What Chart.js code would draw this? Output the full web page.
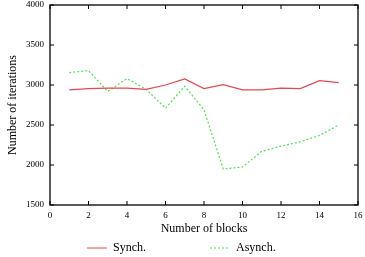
<!DOCTYPE html>
<html>
<head>
<meta charset="utf-8">
<script src="https://cdn.jsdelivr.net/npm/chart.js@4.4.0/dist/chart.umd.min.js"></script>
<style>
  html, body { margin: 0; padding: 0; background: #fff; }
  #wrap { width: 365px; height: 257px; }
</style>
</head>
<body>
<div id="wrap"><canvas id="grafico"></canvas></div>
<script>
// Dados
const blocos = [1, 2, 3, 4, 5, 6, 7, 8, 9, 10, 11, 12, 13, 14, 15];
const iterSynch = [2940, 2955, 2960, 2960, 2945, 3000, 3075, 2955, 3005, 2940, 2940, 2960, 2955, 3055, 3030];
const iterAsynch = [3155, 3180, 2920, 3080, 2945, 2710, 2985, 2690, 1950, 1975, 2170, 2235, 2290, 2370, 2500];
const ticksX = [0, 2, 4, 6, 8, 10, 12, 14, 16];
const ticksY = [1500, 2000, 2500, 3000, 3500, 4000];

const fonte = "'Liberation Serif', 'DejaVu Serif', serif";
const corSynch = "rgb(232, 70, 80)";
const corAsynch = "rgb(70, 230, 70)";

// Moldura e ticks para dentro (estilo gnuplot)
const molduraPlugin = {
  id: "moldura",
  afterDraw(chart) {
    const ctx = chart.ctx;
    const a = chart.chartArea;
    const sx = chart.scales.x;
    const sy = chart.scales.y;
    const t = 4;
    ctx.save();
    ctx.strokeStyle = "#000";
    ctx.lineWidth = 1.3;
    ctx.strokeRect(a.left, a.top, a.right - a.left, a.bottom - a.top);
    ctx.lineWidth = 1;
    ctx.beginPath();
    ticksX.forEach((v) => {
      const px = sx.getPixelForValue(v);
      ctx.moveTo(px, a.bottom);
      ctx.lineTo(px, a.bottom - t);
      ctx.moveTo(px, a.top);
      ctx.lineTo(px, a.top + t);
    });
    ticksY.forEach((v) => {
      const py = sy.getPixelForValue(v);
      ctx.moveTo(a.left, py);
      ctx.lineTo(a.left + t, py);
      ctx.moveTo(a.right, py);
      ctx.lineTo(a.right - t, py);
    });
    ctx.stroke();

    // Legenda
    const ly = 248;
    const itens = [
      { x: 87, ds: chart.data.datasets[0] },
      { x: 210, ds: chart.data.datasets[1] },
    ];
    ctx.font = "12px " + fonte;
    ctx.textBaseline = "middle";
    ctx.fillStyle = "#000";
    itens.forEach((it) => {
      ctx.strokeStyle = it.ds.borderColor;
      ctx.lineWidth = 1;
      ctx.setLineDash(it.ds.borderDash || []);
      ctx.beginPath();
      ctx.moveTo(it.x, ly);
      ctx.lineTo(it.x + 20, ly);
      ctx.stroke();
      ctx.setLineDash([]);
      ctx.fillText(it.ds.label, it.x + 26, ly);
    });
    ctx.restore();
  },
};

const grafico = document.getElementById("grafico");

new Chart(grafico, {
  type: "line",
  data: {
    labels: blocos,
    datasets: [
      {
        label: "Synch.",
        data: blocos.map((b, i) => ({ x: b, y: iterSynch[i] })),
        borderColor: corSynch,
        borderWidth: 1.2,
        pointRadius: 0,
        fill: false,
        tension: 0,
      },
      {
        label: "Asynch.",
        data: blocos.map((b, i) => ({ x: b, y: iterAsynch[i] })),
        borderColor: corAsynch,
        borderWidth: 1.2,
        borderDash: [2, 2],
        pointRadius: 0,
        fill: false,
        tension: 0,
      },
    ],
  },
  options: {
    responsive: true,
    maintainAspectRatio: false,
    animation: false,
    layout: { padding: { top: 0, right: 0, bottom: 20, left: 0 } },
    scales: {
      x: {
        type: "linear",
        min: 0,
        max: 16,
        afterFit: (s) => { s.height = 32; s.paddingRight = 7; s.paddingLeft = 0; },
        afterBuildTicks: (s) => { s.ticks = ticksX.map((v) => ({ value: v })); },
        grid: { display: false, drawTicks: false },
        border: { display: false },
        ticks: {
          color: "#000",
          padding: 5,
          maxRotation: 0,
          font: { family: fonte, size: 9 },
          callback: (v) => String(v),
        },
        title: {
          display: true,
          text: "Number of blocks",
          color: "#000",
          padding: { top: 0, bottom: 1 },
          font: { family: fonte, size: 12 },
        },
      },
      y: {
        min: 1500,
        max: 4000,
        afterFit: (s) => { s.width = 50; s.paddingTop = 5; s.paddingBottom = 0; },
        afterBuildTicks: (s) => { s.ticks = ticksY.map((v) => ({ value: v })); },
        grid: { display: false, drawTicks: false },
        border: { display: false },
        ticks: {
          color: "#000",
          padding: 6,
          font: { family: fonte, size: 9 },
          callback: (v) => String(v),
        },
        title: {
          display: true,
          text: "Number of iterations",
          color: "#000",
          padding: { top: 6, bottom: 0 },
          font: { family: fonte, size: 12 },
        },
      },
    },
    plugins: {
      legend: { display: false },
      tooltip: { enabled: false },
    },
  },
  plugins: [molduraPlugin],
});
</script>
</body>
</html>
